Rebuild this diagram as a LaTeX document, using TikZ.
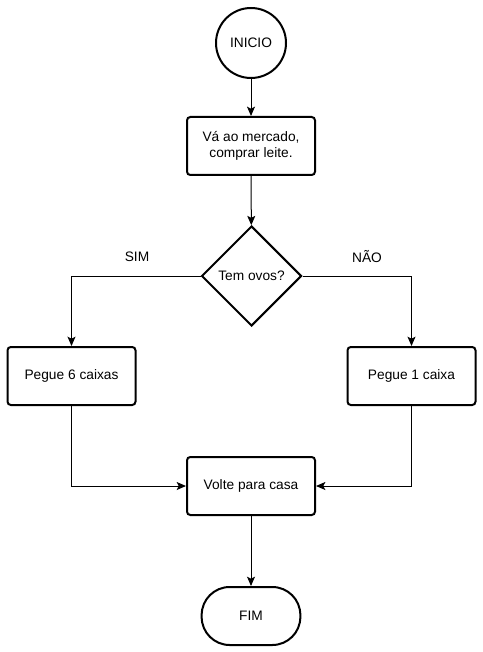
\documentclass[tikz,border=0pt]{standalone}
\usepackage{fontspec}
\setmainfont{Liberation Sans}
\usetikzlibrary{shapes.geometric,arrows.meta}
\begin{document}
\begin{tikzpicture}[x=0.75pt,y=-0.75pt,
  font=\fontsize{10.3pt}{12.4pt}\selectfont,
  shp/.style={draw=black,line width=1.5pt,fill=white,inner sep=0pt,align=center},
  procbox/.style={shp,rectangle,rounded corners=2.5pt,minimum width=96pt,minimum height=43.5pt},
  startc/.style={shp,circle,minimum size=52.5pt},
  decis/.style={shp,diamond,aspect=1,minimum width=75pt,minimum height=75pt},
  term/.style={shp,rectangle,rounded corners=21pt,minimum width=74pt,minimum height=43.5pt},
  conn/.style={line width=0.75pt,-{Stealth[length=7pt,width=6pt,inset=1.5pt]}},
  lab/.style={inner sep=0pt}]
\useasboundingbox (0,0) rectangle (482,652);
\node[startc] (ini) at (251,43) {INICIO};
\node[procbox] (mer) at (251,146) {Vá ao mercado,\\comprar leite.};
\node[decis] (ovo) at (251.5,276) {Tem ovos?};
\node[procbox] (p6) at (71.5,376) {Pegue 6 caixas};
\node[procbox] (p1) at (411.5,376) {Pegue 1 caixa};
\node[procbox] (vol) at (251,486) {Volte para casa};
\node[term] (fim) at (251,616) {FIM};
\node[lab] (sim) at (137,257) {SIM};
\node[lab] (nao) at (367,257) {NÃO};
\draw[conn] (ini) -- (mer);
\draw[conn] (mer) -- (ovo);
\draw[conn] (ovo.west) -| (p6.north);
\draw[conn] (ovo.east) -| (p1.north);
\draw[conn] (p6.south) |- (vol.west);
\draw[conn] (p1.south) |- (vol.east);
\draw[conn] (vol) -- (fim);
\end{tikzpicture}
\end{document}
